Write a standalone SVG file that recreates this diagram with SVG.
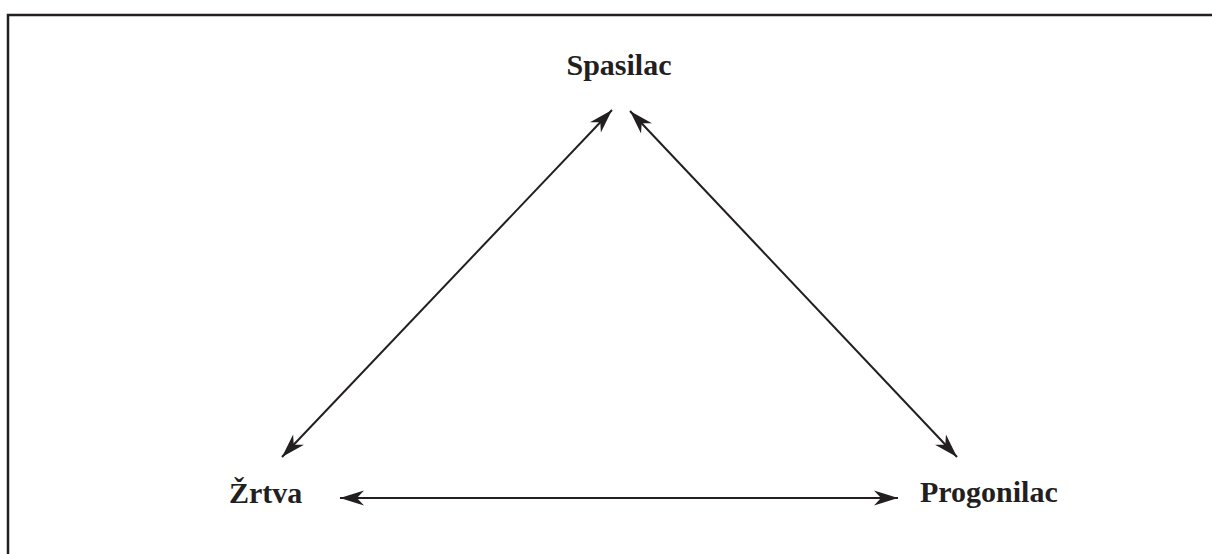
<svg xmlns="http://www.w3.org/2000/svg" width="1212" height="554" viewBox="0 0 1212 554">
<style>
.lbl{font-family:"Liberation Serif","Times New Roman",serif;font-weight:bold;font-size:30px;fill:#231f20}
.con{stroke:#231f20;stroke-width:2;fill:none}
.frame{stroke:#231f20;stroke-width:2.5;fill:none}
</style>
<defs>
<marker id="ah" markerUnits="userSpaceOnUse" viewBox="-26 -9 28 18" refX="0" refY="0" markerWidth="28" markerHeight="18" orient="auto-start-reverse">
<path d="M0,0 L-24,-7.5 L-17,0 L-24,7.5 Z" fill="#231f20"/>
</marker>
</defs>
<rect width="1212" height="554" fill="#ffffff"/>
<path class="frame" d="M8,554 V15 H1212"/>
<g id="spasilac"><text class="lbl" x="619" y="75" text-anchor="middle">Spasilac</text></g>
<g id="zrtva"><text class="lbl" x="229" y="503">Žrtva</text></g>
<g id="progonilac"><text class="lbl" x="920" y="502">Progonilac</text></g>
<g id="connectors">
<line class="con" x1="282" y1="457" x2="612" y2="110" marker-start="url(#ah)" marker-end="url(#ah)"/>
<line class="con" x1="630" y1="111" x2="957" y2="457" marker-start="url(#ah)" marker-end="url(#ah)"/>
<line class="con" x1="340" y1="498" x2="898" y2="498" marker-start="url(#ah)" marker-end="url(#ah)"/>
</g>
</svg>
